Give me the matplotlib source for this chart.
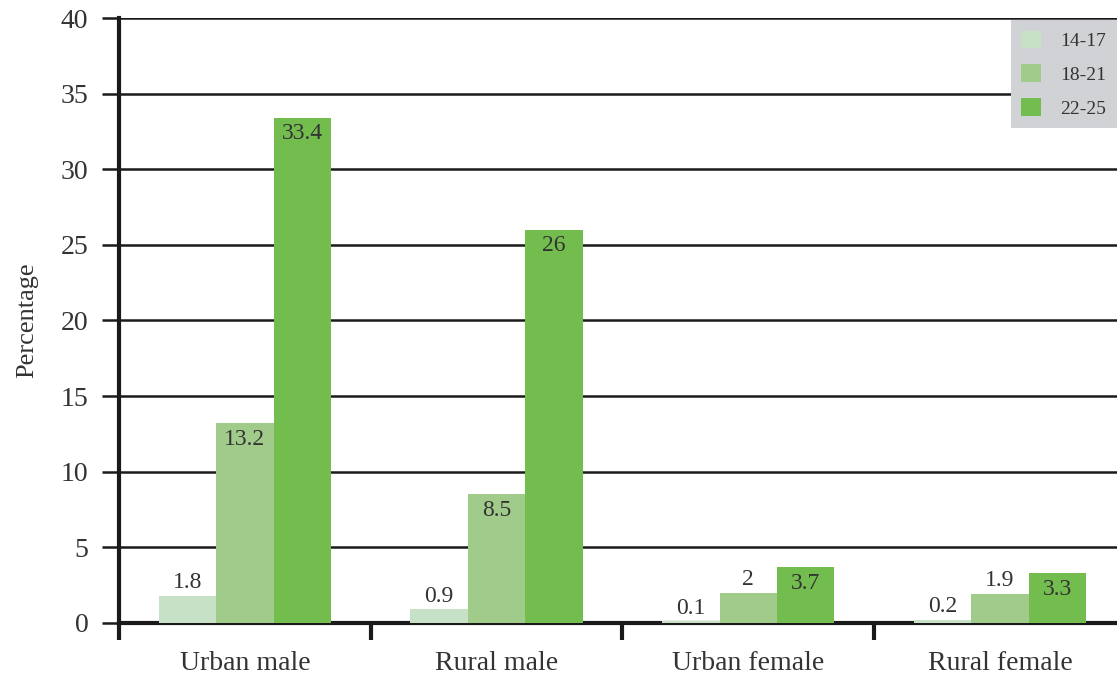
import numpy as np
import matplotlib.pyplot as plt
from matplotlib.patches import Patch

# Share of each group, by age band
groups = ['Urban male', 'Rural male', 'Urban female', 'Rural female']
age_bands = ['14-17', '18-21', '22-25']
pct_14_17 = [1.8, 0.9, 0.1, 0.2]
pct_18_21 = [13.2, 8.5, 2, 1.9]
pct_22_25 = [33.4, 26, 3.7, 3.3]
labels_14_17 = ['1.8', '0.9', '0.1', '0.2']
labels_18_21 = ['13.2', '8.5', '2', '1.9']
labels_22_25 = ['33.4', '26', '3.7', '3.3']

colors = ['#c6e1c6', '#a1cb8b', '#73bd4f']
text_color = '#333333'

plt.rcParams['font.family'] = ['Liberation Serif', 'DejaVu Serif']

fig = plt.figure(figsize=(11.17, 6.77), dpi=100)
ax = fig.add_axes([0.1065, 0.0798, 0.8935, 0.8936])

x = np.arange(len(groups))
w = 0.228
series = [(pct_14_17, labels_14_17), (pct_18_21, labels_18_21), (pct_22_25, labels_22_25)]
for i, (vals, labs) in enumerate(series):
    pos = x + (i - 1) * w
    ax.bar(pos, vals, width=w, color=colors[i], zorder=3)
    for p, v, s in zip(pos, vals, labs):
        if v >= 3:
            ax.annotate(s, (p, v), xytext=(0, -4), textcoords='offset points',
                        ha='center', va='top', fontsize=17, color=text_color, zorder=4)
        else:
            ax.annotate(s, (p, v), xytext=(0, 2), textcoords='offset points',
                        ha='center', va='bottom', fontsize=17, color=text_color, zorder=4)

ax.set_ylim(0, 40)
ax.set_xlim(-0.5, 3.465)
ax.set_yticks(np.arange(0, 41, 5))
ax.yaxis.grid(True, color='#1a1a1a', linewidth=1.8, zorder=0)
ax.set_axisbelow(True)

# category ticks sit on the boundaries between groups
ax.set_xticks(x, groups)
ax.set_xticks(np.arange(-0.5, 3.0, 1.0), minor=True)
ax.tick_params(axis='x', which='major', length=0, pad=20, labelsize=20, labelcolor=text_color)
ax.tick_params(axis='x', which='minor', length=12, width=3, color='#1a1a1a', direction='out')
ax.tick_params(axis='y', length=12, width=1.8, color='#1a1a1a', pad=10, labelsize=20,
               labelcolor=text_color)

for side in ['top', 'right']:
    ax.spines[side].set_visible(False)
ax.spines['left'].set_linewidth(3)
ax.spines['left'].set_color('#1a1a1a')
ax.spines['bottom'].set_linewidth(3)
ax.spines['bottom'].set_color('#1a1a1a')

ax.set_ylabel('Percentage', fontsize=19, color=text_color, labelpad=16)

handles = [Patch(facecolor=c, edgecolor='none') for c in colors]
leg = ax.legend(handles, age_bands, loc='upper right', bbox_to_anchor=(1.0, 0.997),
                frameon=True, fancybox=False, fontsize=14, handlelength=1.0,
                handleheight=1.0, handletextpad=1.0, labelspacing=0.75,
                borderpad=0.55, borderaxespad=0)
leg.get_frame().set_facecolor('#d1d2d6')
leg.get_frame().set_edgecolor('none')
leg.get_frame().set_alpha(1)
for t in leg.get_texts():
    t.set_color(text_color)
leg.set_zorder(5)

fig.savefig('out.png', dpi=100)
